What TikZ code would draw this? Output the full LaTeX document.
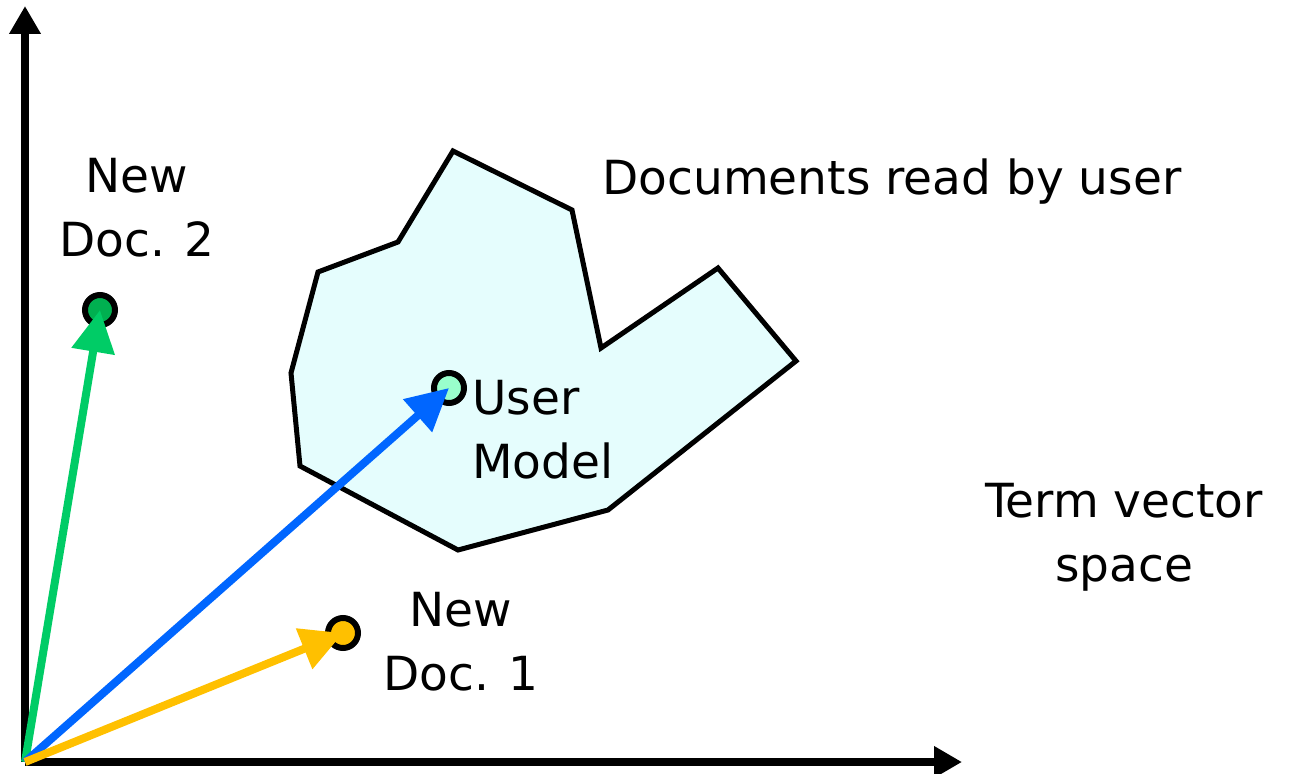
\documentclass[tikz,border=0pt]{standalone}
\usepackage{fontspec}
\setmainfont{DejaVu Sans}
\usetikzlibrary{arrows.meta}
\definecolor{gArrow}{HTML}{00CC66}
\definecolor{gDot}{HTML}{00B050}
\definecolor{bArrow}{HTML}{0066FF}
\definecolor{yArrow}{HTML}{FFC000}
\definecolor{umDot}{HTML}{99FFCC}
\definecolor{regionFill}{HTML}{E5FDFD}
\tikzset{
  axis/.style={line width=8pt,-{Triangle[length=28pt,width=30pt]}},
  vec/.style={line width=8pt,-{Triangle[length=42pt,width=42pt]}},
  dot/.style={circle,draw=black,line width=6pt,minimum size=30pt,inner sep=0pt},
  lbl/.style={font=\fontsize{47}{64}\selectfont,align=center,inner sep=0pt},
}
\begin{document}
\begin{tikzpicture}[x=1pt,y=-1pt]
\useasboundingbox (0,0) rectangle (1289,773);
\coordinate (O) at (25,762);
\coordinate (ytip) at (25,6);
\coordinate (xtip) at (962,762);
\filldraw[fill=regionFill,draw=black,line width=5pt,line join=miter]
 (453,151) -- (572,210) -- (601,348) -- (718,268) -- (796,361) -- (608,510) -- (458,550) -- (300,466) -- (291,373) -- (318,272) -- (398,242) -- cycle;
\node[dot,fill=gDot] (d2) at (100,310) {};
\node[dot,fill=umDot] (um) at (449,388) {};
\node[dot,fill=yArrow] (d1) at (343,633) {};
\draw[axis] (O) -- (ytip);
\draw[axis] (O) -- (xtip);
\draw[vec,gArrow] (O) -- (d2.center);
\draw[vec,bArrow] (O) -- (um.center);
\draw[vec,yArrow] (O) -- (d1.center);
\node[lbl] (t2) at (137,208) {New\\Doc. 2};
\node[lbl] (t1) at (461,642) {New\\Doc. 1};
\node[lbl,align=left,anchor=west] (tu) at (472,430) {User\\Model};
\node[lbl] (tr) at (892,182) {Documents read by user};
\node[lbl] (ts) at (1124,537) {Term vector\\space};
\end{tikzpicture}
\end{document}
